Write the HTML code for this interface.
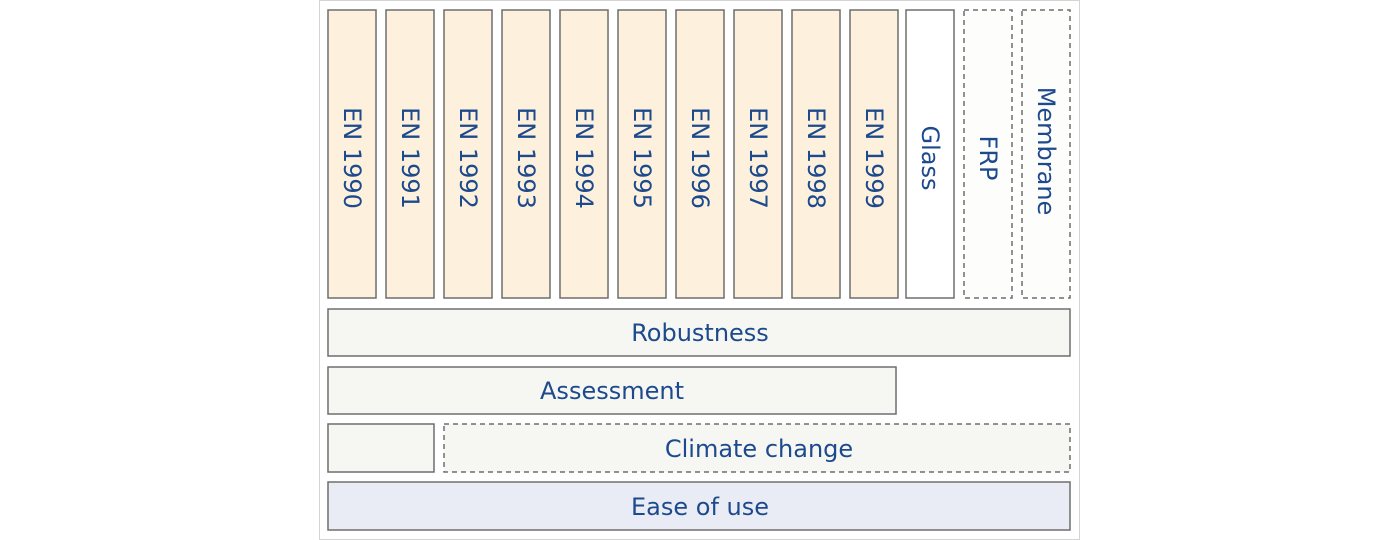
<!DOCTYPE html>
<html><head><style>body{margin:0;background:#fff}svg{display:block}</style></head><body>
<svg width="1400" height="540" xmlns="http://www.w3.org/2000/svg" font-family="'DejaVu Sans','Liberation Sans',sans-serif" font-size="24" fill="#1d4a8c">
<rect x="319.5" y="0.5" width="760" height="539" fill="#fff" stroke="#d4d4d4"/>
<g stroke="#6e6e6e" stroke-width="1.5">
<rect x="328" y="10" width="48" height="288" fill="#fdf1de"/>
<rect x="386" y="10" width="48" height="288" fill="#fdf1de"/>
<rect x="444" y="10" width="48" height="288" fill="#fdf1de"/>
<rect x="502" y="10" width="48" height="288" fill="#fdf1de"/>
<rect x="560" y="10" width="48" height="288" fill="#fdf1de"/>
<rect x="618" y="10" width="48" height="288" fill="#fdf1de"/>
<rect x="676" y="10" width="48" height="288" fill="#fdf1de"/>
<rect x="734" y="10" width="48" height="288" fill="#fdf1de"/>
<rect x="792" y="10" width="48" height="288" fill="#fdf1de"/>
<rect x="850" y="10" width="48" height="288" fill="#fdf1de"/>
<rect x="906" y="10" width="48" height="288" fill="#fff"/>
<rect x="964" y="10" width="48" height="288" fill="#fdfdfb" stroke-dasharray="5,4"/>
<rect x="1022" y="10" width="48" height="288" fill="#fdfdfb" stroke-dasharray="5,4"/>
<rect x="328" y="309" width="742" height="47" fill="#f6f6f3"/>
<rect x="328" y="367" width="568" height="47" fill="#f6f6f3"/>
<rect x="328" y="424" width="106" height="48" fill="#f6f6f3"/>
<rect x="444" y="424" width="626" height="48" fill="#f6f6f3" stroke-dasharray="5,4"/>
<rect x="328" y="482" width="742" height="48" fill="#e9ecf5"/>
</g>
<g text-anchor="middle" dominant-baseline="central" stroke="none">
<text transform="translate(352,158) rotate(90)">EN 1990</text>
<text transform="translate(410,158) rotate(90)">EN 1991</text>
<text transform="translate(468,158) rotate(90)">EN 1992</text>
<text transform="translate(526,158) rotate(90)">EN 1993</text>
<text transform="translate(584,158) rotate(90)">EN 1994</text>
<text transform="translate(642,158) rotate(90)">EN 1995</text>
<text transform="translate(700,158) rotate(90)">EN 1996</text>
<text transform="translate(758,158) rotate(90)">EN 1997</text>
<text transform="translate(816,158) rotate(90)">EN 1998</text>
<text transform="translate(874,158) rotate(90)">EN 1999</text>
<text transform="translate(930,158) rotate(90)">Glass</text>
<text transform="translate(988,158) rotate(90)">FRP</text>
<text transform="translate(1046,151) rotate(90)">Membrane</text>
<text x="700" y="333">Robustness</text>
<text x="612" y="391">Assessment</text>
<text x="759" y="449">Climate change</text>
<text x="700" y="507">Ease of use</text>
</g>
</svg>
</body></html>
